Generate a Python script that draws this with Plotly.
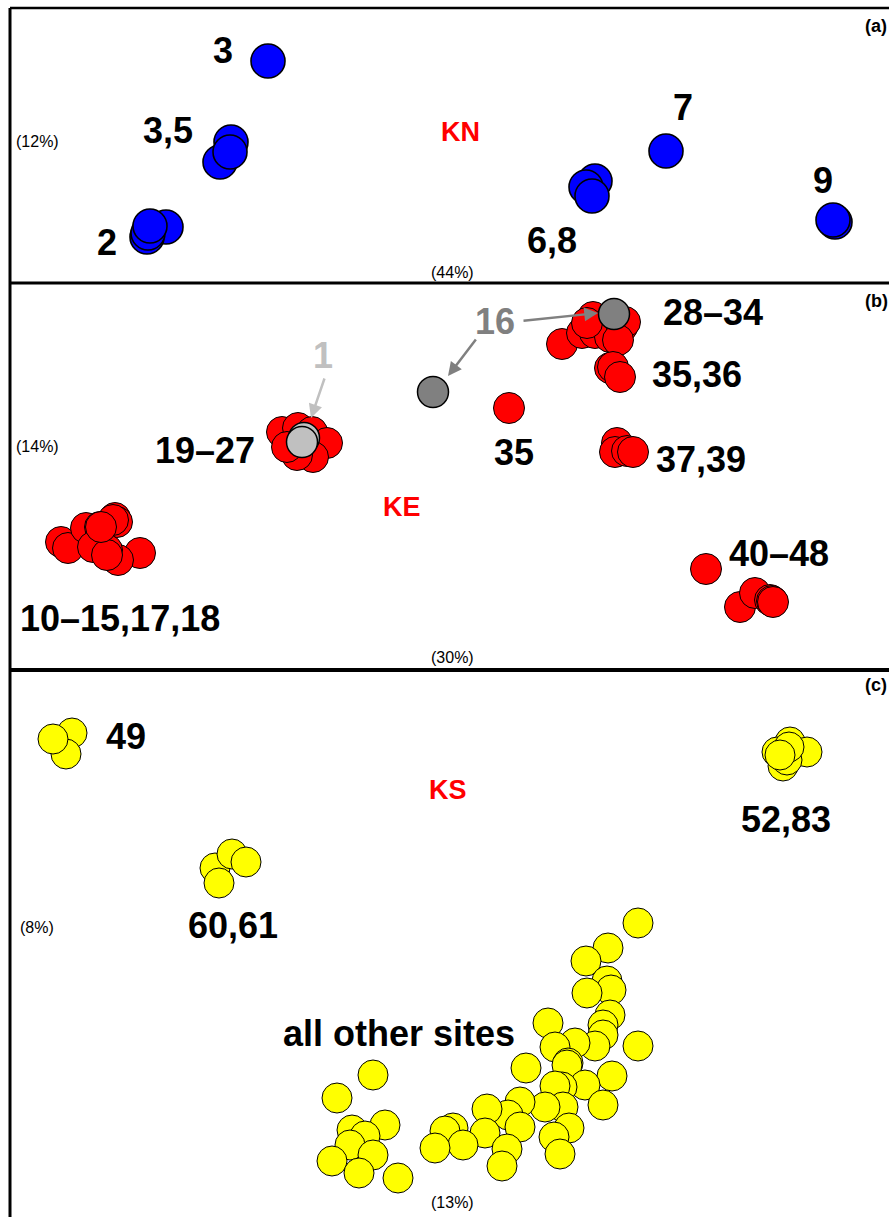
import plotly.graph_objects as go

W, H = 889, 1217
FONT = "Liberation Sans, Arial, sans-serif"

# ---------------- data (ordination positions) ----------------
# Panel (a) KN - blue
kn_x = [268, 231, 220, 230, 166, 147, 148, 150, 666, 595, 586, 592, 835, 833]
kn_y = [61, 142, 162, 152, 227, 237, 233, 226, 151, 181, 187, 196, 222, 220]

# Panel (b) KE - red
ke_x = [61, 68, 86, 100, 115, 117, 113, 140, 118, 107, 93, 107, 101,
        282, 298, 312, 327, 313, 297, 287,
        562, 582, 593, 595, 610, 622, 625, 618, 587,
        610, 613, 620,
        509,
        617, 615, 627, 633,
        706, 740, 755, 770, 772, 773]
ke_y = [542, 548, 528, 527, 518, 522, 520, 553, 560, 550, 547, 555, 527,
        432, 428, 432, 443, 457, 455, 447,
        344, 333, 317, 333, 337, 327, 322, 340, 323,
        368, 367, 377,
        408,
        443, 452, 451, 452,
        569, 607, 593, 600, 601, 602]
site1_x = [304, 302]
site1_y = [438, 442]
site16_x = [433, 614]
site16_y = [392, 314]

# Panel (c) KS - yellow
ks_x = [72, 66, 53,
        215, 232, 246, 219,
        790, 807, 777, 783, 787, 789, 780,
        638, 608, 586, 607, 611, 587, 610, 603, 603, 638, 548, 595, 575, 555,
        568, 567, 612, 585, 562, 555, 603, 563, 545, 569, 554, 560, 526, 520,
        508, 520, 487, 485, 507, 502, 453, 445, 463, 435, 373, 337, 385, 352,
        365, 350, 373, 332, 359, 398]
ks_y = [733, 754, 739,
        868, 854, 862, 883,
        742, 752, 752, 766, 760, 747, 755,
        923, 948, 961, 981, 990, 993, 1015, 1025, 1035, 1046, 1023, 1046, 1043, 1047,
        1063, 1065, 1076, 1085, 1087, 1086, 1105, 1107, 1107, 1128, 1137, 1154, 1068, 1102,
        1115, 1127, 1109, 1133, 1149, 1166, 1128, 1131, 1145, 1148, 1075, 1098, 1125, 1130,
        1136, 1145, 1155, 1161, 1173, 1178]

# group labels
kn_labels = ["3", "3,5", "2", "7", "6,8", "9"]
kn_lab_x = [223, 168, 107, 683, 552, 823]
kn_lab_y = [50, 130, 242, 107, 240, 180]

ke_labels = ["28–34", "35,36", "35", "37,39", "40–48", "19–27", "10–15,17,18"]
ke_lab_x = [713, 697, 514, 701, 779, 205, 120]
ke_lab_y = [313, 375, 453, 460, 553, 451, 618]

ks_labels = ["49", "60,61", "52,83", "all other sites"]
ks_lab_x = [126, 233, 786, 399]
ks_lab_y = [736, 925, 819, 1033]

region_names = ["KN", "KE", "KS"]
region_x = [460, 402, 448]
region_y = [132, 507, 790]

var_y_labels = ["(12%)", "(14%)", "(8%)"]
var_y_pos = [141, 447, 927]
var_x_labels = ["(44%)", "(30%)", "(13%)"]
var_x_pos = [272, 657, 1202]
panel_tags = ["(a)", "(b)", "(c)"]
panel_tag_y = [26, 301, 685]

# panel extents (figure pixel rows)
panel_top = [8, 283, 670]
panel_bot = [283, 670, 1217]

# ---------------- figure ----------------
fig = go.Figure()

def py(v):
    return 1 - v / H

axes_ids = [("x", "y"), ("x2", "y2"), ("x3", "y3")]

def add_pts(xs, ys, color, size, lw, ax):
    fig.add_trace(go.Scatter(
        x=xs, y=ys, mode="markers", xaxis=ax[0], yaxis=ax[1],
        marker=dict(size=size, color=color, line=dict(color="black", width=lw)),
        showlegend=False, hoverinfo="skip", cliponaxis=False))

add_pts(kn_x, kn_y, "#0000FF", 34, 1.6, axes_ids[0])
add_pts(ke_x, ke_y, "#FF0000", 31, 1.0, axes_ids[1])
add_pts(site1_x, site1_y, "#C0C0C0", 31, 1.5, axes_ids[1])
add_pts(site16_x, site16_y, "#808080", 31, 1.5, axes_ids[1])
add_pts(ks_x, ks_y, "#FFFF00", 30, 1.0, axes_ids[2])

layout = dict(
    width=W, height=H, margin=dict(l=0, r=0, t=0, b=0),
    paper_bgcolor="white", plot_bgcolor="white", showlegend=False,
)
for i, (xa, ya) in enumerate(axes_ids):
    kx = "xaxis" if i == 0 else f"xaxis{i+1}"
    ky = "yaxis" if i == 0 else f"yaxis{i+1}"
    layout[kx] = dict(domain=[10 / W, 1], range=[10, W], visible=False, fixedrange=True)
    layout[ky] = dict(domain=[py(panel_bot[i]), py(panel_top[i])],
                      range=[panel_bot[i], panel_top[i]], visible=False, fixedrange=True)
fig.update_layout(**layout)

ann = []
def label(txt, x, y, ax, size=36, color="black", bold=True):
    ann.append(dict(text=f"<b>{txt}</b>" if bold else txt, x=x, y=y,
                    xref=ax[0], yref=ax[1], showarrow=False,
                    xanchor="center", yanchor="middle",
                    font=dict(family=FONT, size=size, color=color)))

for t, x, y in zip(kn_labels, kn_lab_x, kn_lab_y):
    label(t, x, y, axes_ids[0])
for t, x, y in zip(ke_labels, ke_lab_x, ke_lab_y):
    label(t, x, y, axes_ids[1])
for t, x, y in zip(ks_labels, ks_lab_x, ks_lab_y):
    label(t, x, y, axes_ids[2])
for i in range(3):
    label(region_names[i], region_x[i], region_y[i], axes_ids[i], size=27, color="#FF0000")
    label(var_y_labels[i], 37, var_y_pos[i], axes_ids[i], size=16, bold=False)
    label(var_x_labels[i], 452, var_x_pos[i], axes_ids[i], size=16, bold=False)
    ann.append(dict(text=f"<b>{panel_tags[i]}</b>", x=863 / W, y=py(panel_tag_y[i]),
                    xref="paper", yref="paper", showarrow=False,
                    xanchor="left", yanchor="middle",
                    font=dict(family=FONT, size=18, color="black")))

# highlighted sites 1 and 16
label("1", 323, 356, axes_ids[1], color="#C0C0C0")
label("16", 495, 322, axes_ids[1], color="#808080")
arrows = [((325, 377), (311, 418), "#C0C0C0"),
          ((477, 338), (448, 376), "#808080"),
          ((522, 321), (598, 313), "#808080")]
for (tx, ty), (hx, hy), c in arrows:
    ann.append(dict(text="", x=hx, y=hy, ax=tx, ay=ty, xref="x2", yref="y2",
                    axref="x2", ayref="y2", showarrow=True, arrowhead=2,
                    arrowsize=1.1, arrowwidth=2.5, arrowcolor=c, standoff=0))

fig.update_layout(annotations=ann)

# panel frames
shapes = []
for yv, w in [(8, 2.5), (283, 3), (670, 4)]:
    shapes.append(dict(type="line", xref="paper", yref="paper",
                       x0=10 / W, x1=1, y0=py(yv), y1=py(yv),
                       line=dict(color="black", width=w)))
shapes.append(dict(type="line", xref="paper", yref="paper",
                   x0=10 / W, x1=10 / W, y0=py(8), y1=0,
                   line=dict(color="black", width=3)))
fig.update_layout(shapes=shapes)

fig.write_html("out.html", config={"displayModeBar": False},
               post_script="document.body.style.margin='0';document.body.style.overflow='hidden';")
